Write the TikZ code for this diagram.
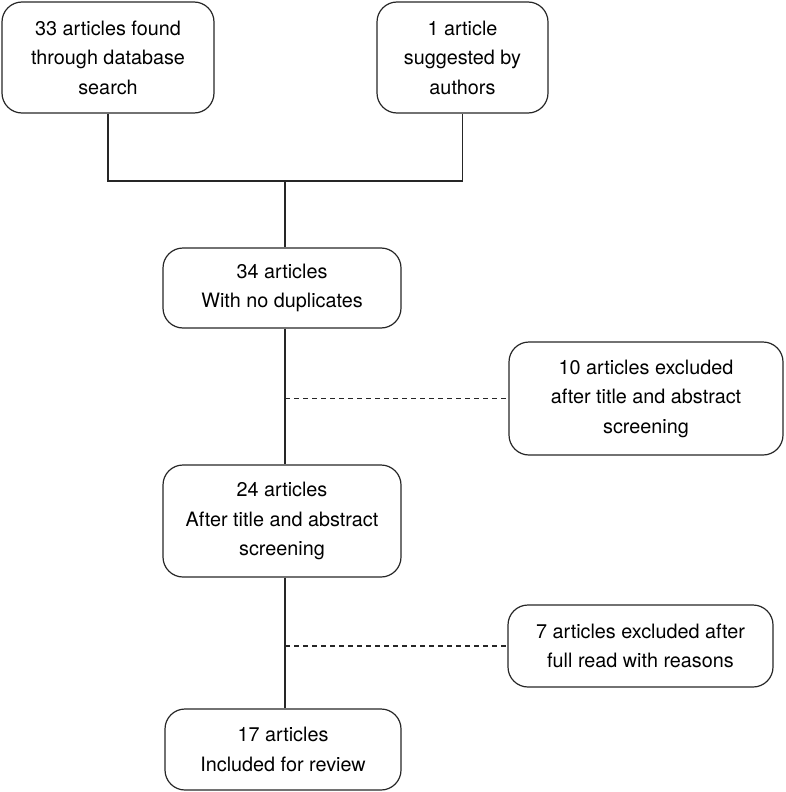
\documentclass[tikz,border=0pt]{standalone}
\usepackage{fontspec}
\setmainfont{TeX Gyre Heros}
\usepackage{tikz}

\begin{document}
\begin{tikzpicture}[x=1pt,y=-1pt]
	\tikzstyle{box}=[draw=black!85,rounded corners=20pt,line width=1.2pt,align=center,inner sep=0pt,font=\fontsize{19.8}{29.5}\selectfont]
	\tikzstyle{link}=[draw=black!85,line width=1.2pt]
	\useasboundingbox (0,0) rectangle (785,792);
	\node[box,minimum width=212pt,minimum height=111pt] (found) at (108,57.5) {33 articles found\\through database\\search};
	\node[box,minimum width=171pt,minimum height=111pt] (authors) at (462.5,57.5) {1 article\\suggested by\\authors};
	\node[box,minimum width=238pt,minimum height=80pt] (nodup) at (282,288) {34 articles\\With no duplicates};
	\node[box,minimum width=274pt,minimum height=113pt] (excl1) at (646,398.5) {10 articles excluded\\after title and abstract\\screening};
	\node[box,minimum width=238pt,minimum height=112pt] (screen) at (282,521) {24 articles\\After title and abstract\\screening};
	\node[box,minimum width=265pt,minimum height=82pt] (excl2) at (640.5,646) {7 articles excluded after\\full read with reasons};
	\node[box,minimum width=236pt,minimum height=81pt] (incl) at (283,749.5) {17 articles\\Included for review};
	\coordinate (join) at (285,181);
	\coordinate (cut1) at (285,398.5);
	\coordinate (cut2) at (285,646);
	\draw[link] (found.south) |- (join) -| (authors.south);
	\draw[link] (join) -- (join |- nodup.north);
	\draw[link] (join |- nodup.south) -- (join |- screen.north);
	\draw[link] (join |- screen.south) -- (join |- incl.north);
	\draw[link,dash pattern=on 5pt off 4pt] (cut1) -- (excl1.west);
	\draw[link,dash pattern=on 5pt off 4pt] (cut2) -- (excl2.west);
\end{tikzpicture}
\end{document}
